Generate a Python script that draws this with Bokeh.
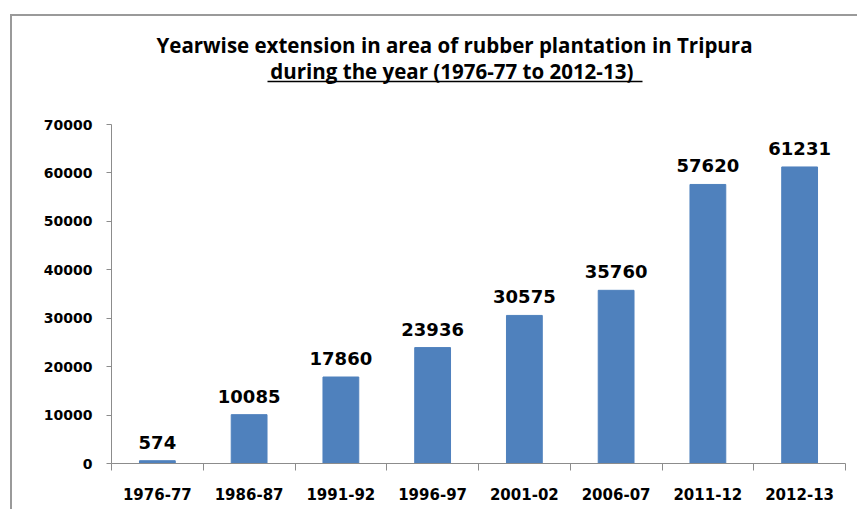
from bokeh.plotting import figure
from bokeh.models import Range1d, LinearAxis, FixedTicker, SingleIntervalTicker, LabelSet, Label, ColumnDataSource
from bokeh.core.properties import value
from bokeh.embed import file_html
from bokeh.resources import INLINE

categories = ["1976-77", "1986-87", "1991-92", "1996-97", "2001-02", "2006-07", "2011-12", "2012-13"]
areas = [574, 10085, 17860, 23936, 30575, 35760, 57620, 61231]
title_line1 = "Yearwise extension in area of rubber plantation in Tripura"
title_line2 = "during  the year (1976-77 to 2012-13)"
y_max = 70000
y_step = 10000

n = len(categories)
xs = [i + 0.5 for i in range(n)]
src = ColumnDataSource(dict(x=xs, top=areas, lbl=[str(v) for v in areas]))

W, H = 857, 509
left_b, right_b = 111, 12
frame_bottom = 463
bottom_b = H - frame_bottom
plot_h = 339                      # pixels from 0 to y_max
frame_h = frame_bottom            # frame extends to the top of the canvas
y_top_px = frame_bottom - plot_h  # pixel row of y_max
y_end = y_max * frame_h / plot_h
ypx = y_max / plot_h              # data units per pixel
xpx = n / (W - left_b - right_b)

p = figure(width=W, height=H, output_backend="svg", toolbar_location=None,
           x_range=Range1d(0, n), y_range=Range1d(0, y_end),
           min_border_left=left_b, min_border_right=right_b, min_border_top=0, min_border_bottom=bottom_b,
           x_axis_type=None, y_axis_type=None)
p.outline_line_color = None
p.background_fill_color = None
p.border_fill_color = None
p.xgrid.visible = False
p.ygrid.visible = False
p.styles = {"background": "linear-gradient(#9a9a9a,#9a9a9a) 10px 14px / 100% 2px no-repeat, "
                          "linear-gradient(#9a9a9a,#9a9a9a) 10px 14px / 2px 100% no-repeat, #ffffff"}

p.vbar(x="x", top="top", width=0.39, source=src, color="#4F81BD")

ax_col = "#8c8c8c"
yax = LinearAxis(ticker=SingleIntervalTicker(interval=y_step, num_minor_ticks=0), bounds=(0, y_max))
yax.axis_line_color = ax_col
yax.major_tick_line_color = ax_col
yax.major_tick_out = 5
yax.major_tick_in = 0
yax.minor_tick_line_color = None
yax.major_label_text_font = "DejaVu Sans"
yax.major_label_text_font_style = "bold"
yax.major_label_text_font_size = "14px"
yax.major_label_text_color = "#000000"
yax.major_label_standoff = 14
p.add_layout(yax, "left")

xax1 = LinearAxis(ticker=FixedTicker(ticks=list(range(n + 1))))
xax1.axis_line_color = ax_col
xax1.major_tick_line_color = ax_col
xax1.major_tick_out = 7
xax1.major_tick_in = 0
xax1.minor_tick_line_color = None
xax1.major_label_overrides = {i: "" for i in range(n + 1)}
xax1.major_label_standoff = 0
xax1.major_label_text_font_size = "1px"
p.add_layout(xax1, "below")

xax2 = LinearAxis(ticker=FixedTicker(ticks=xs))
xax2.axis_line_color = None
xax2.major_tick_line_color = None
xax2.minor_tick_line_color = None
xax2.major_label_overrides = {x: c for x, c in zip(xs, categories)}
xax2.major_label_text_font = "DejaVu Sans"
xax2.major_label_text_font_style = "bold"
xax2.major_label_text_font_size = "15px"
xax2.major_label_text_color = "#000000"
xax2.major_label_standoff = 11
p.add_layout(xax2, "below")

labels = LabelSet(x="x", y="top", text="lbl", source=src, text_align="center",
                  text_baseline="alphabetic", y_offset=12,
                  text_font=value("DejaVu Sans"), text_font_style="bold", text_font_size="18px",
                  text_color="#000000")
p.add_layout(labels)

title_x = (454 - left_b) * xpx
t1 = Label(x=title_x, y=y_max + (y_top_px - 44) * ypx, text=title_line1, text_align="center",
           text_baseline="alphabetic", text_font="Open Sans", text_font_style="bold",
           text_font_size="20.5px", text_color="#000000")
t2 = Label(x=title_x, y=y_max + (y_top_px - 70) * ypx, text=title_line2, text_align="center",
           text_baseline="alphabetic", text_font="Open Sans", text_font_style="bold",
           text_font_size="20.5px", text_color="#000000")
p.add_layout(t1)
p.add_layout(t2)
ul_y = y_max + (y_top_px - 81) * ypx
p.segment(x0=[(267 - left_b) * xpx], x1=[(642 - left_b) * xpx], y0=[ul_y], y1=[ul_y],
          line_color="#000000", line_width=1.5)

open("out.html", "w").write(file_html(p, INLINE))
